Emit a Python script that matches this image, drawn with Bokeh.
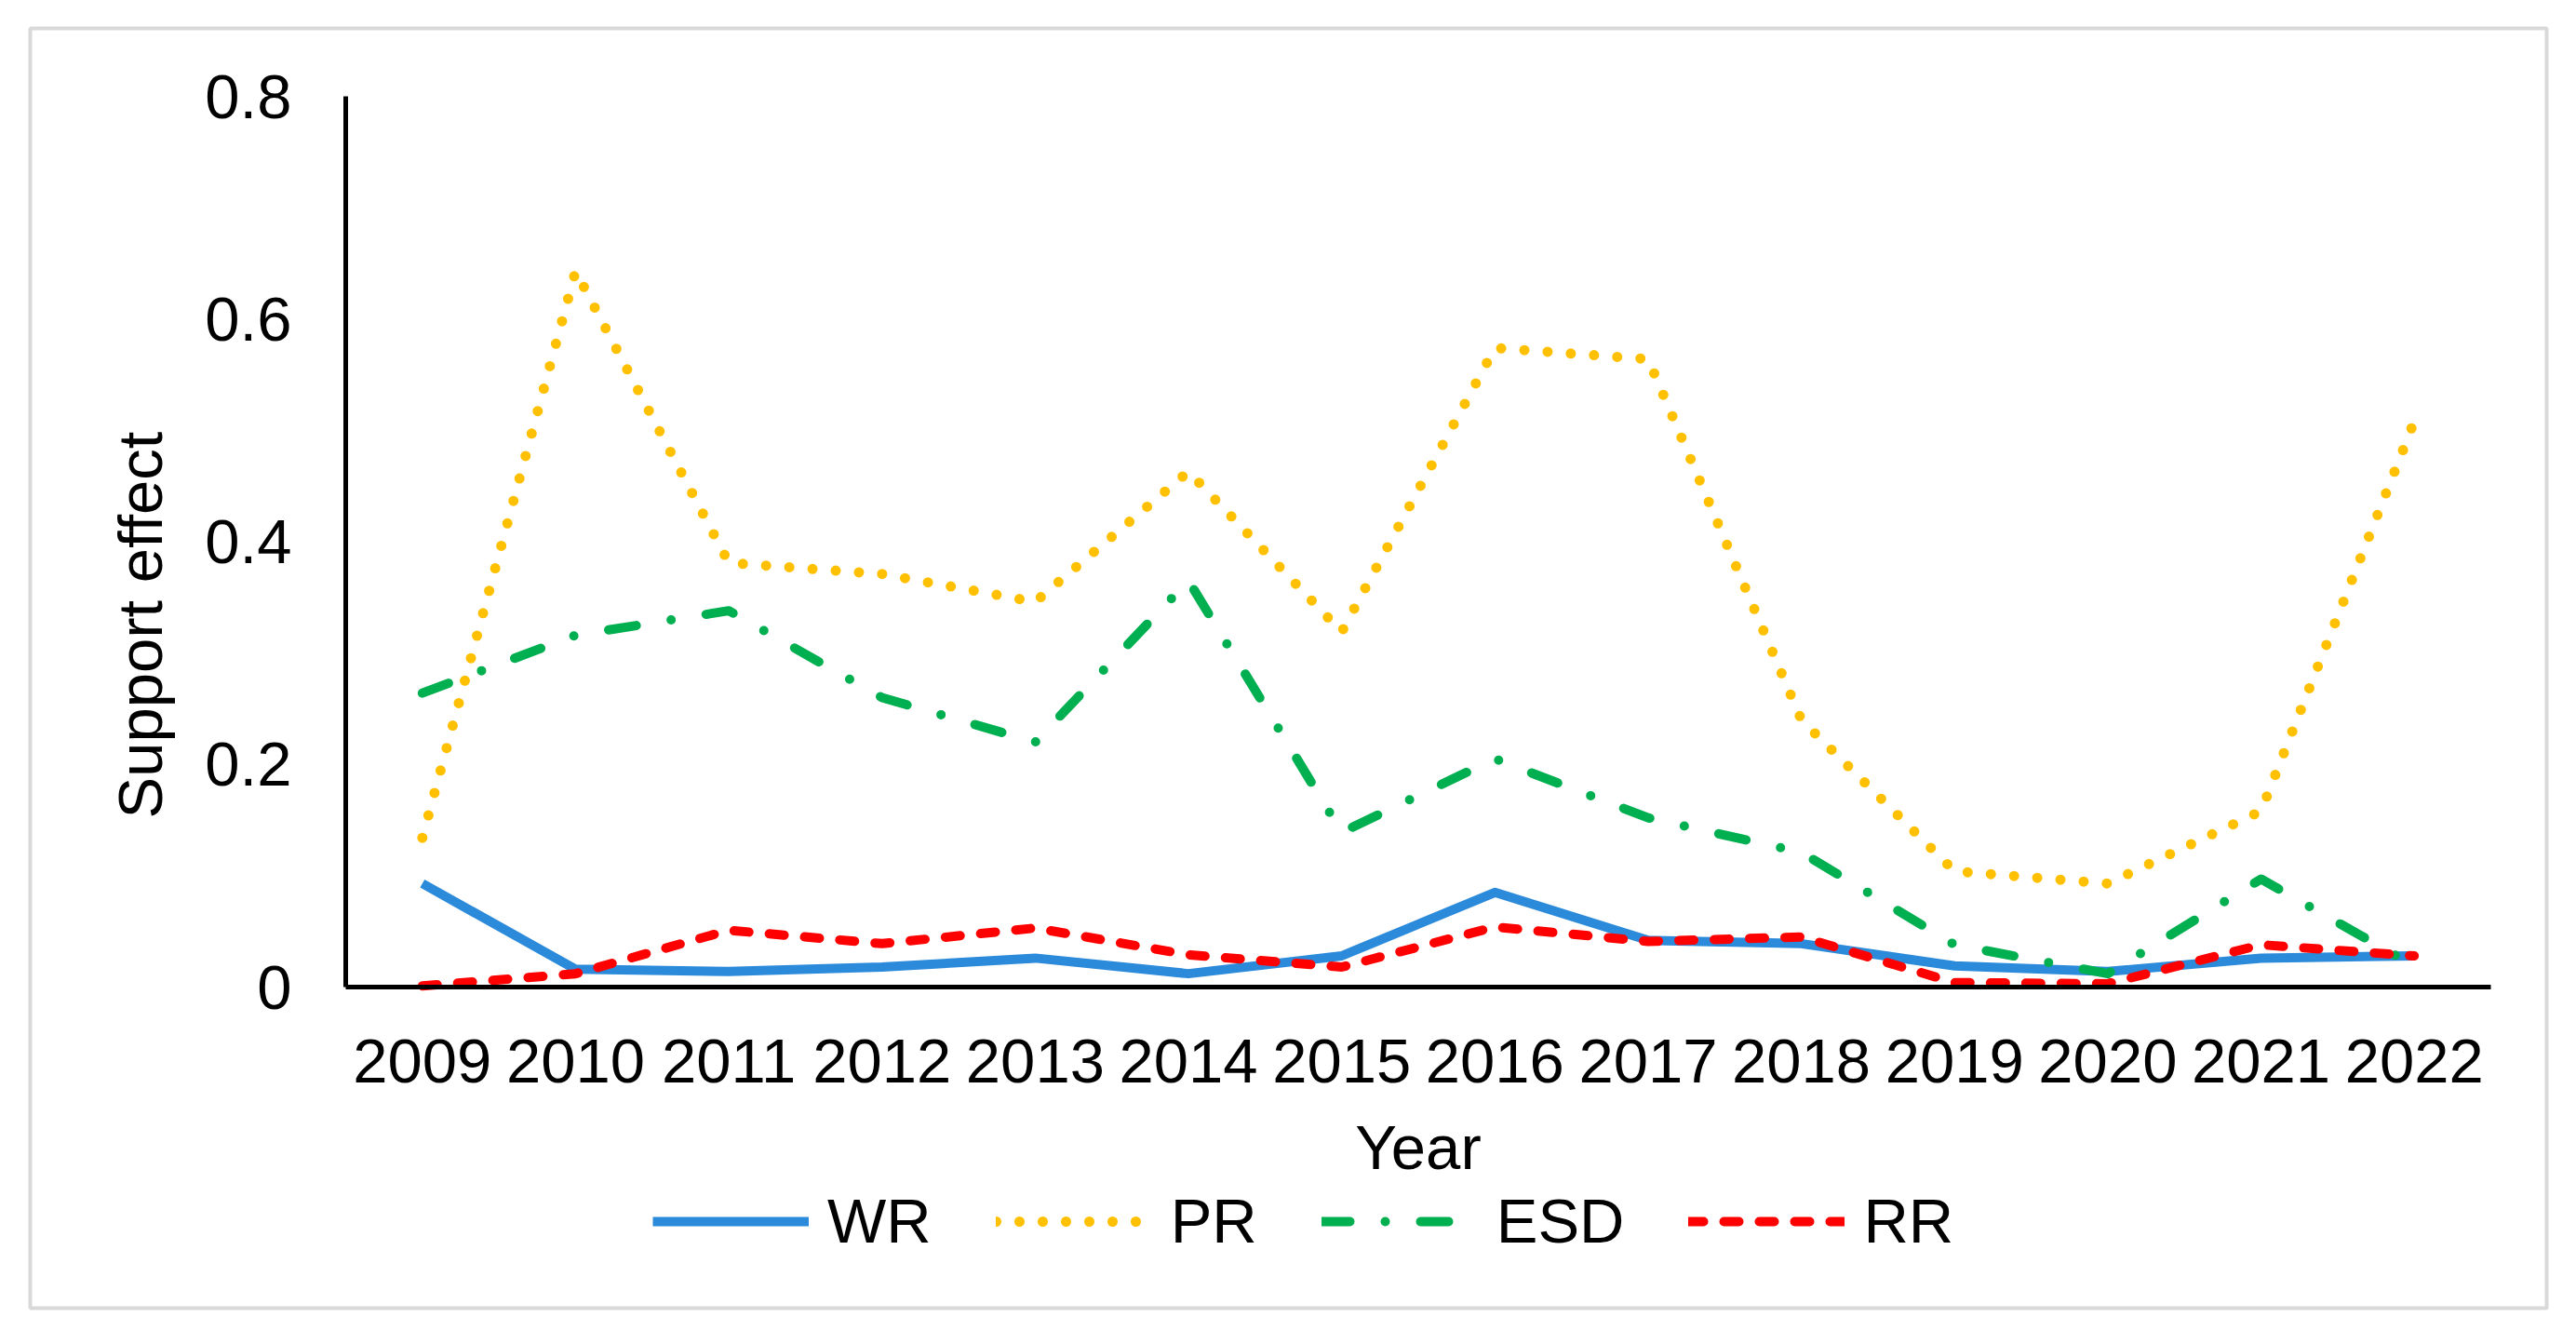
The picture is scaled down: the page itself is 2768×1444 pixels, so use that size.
from math import pi
from bokeh.plotting import figure
from bokeh.models import (Range1d, FixedTicker, Legend, LegendItem, Label,
                          BoxAnnotation, ColumnDataSource)
from bokeh.embed import file_html
from bokeh.resources import INLINE

years = ["2009", "2010", "2011", "2012", "2013", "2014", "2015",
         "2016", "2017", "2018", "2019", "2020", "2021", "2022"]
wr = [0.093, 0.016, 0.014, 0.018, 0.026, 0.012, 0.028, 0.085, 0.042, 0.039, 0.019, 0.014, 0.026, 0.028]
pr = [0.134, 0.643, 0.381, 0.371, 0.346, 0.463, 0.319, 0.574, 0.564, 0.240, 0.104, 0.093, 0.158, 0.508]
esd = [0.264, 0.316, 0.338, 0.260, 0.220, 0.365, 0.139, 0.205, 0.152, 0.121, 0.038, 0.012, 0.097, 0.019]
rr = [0.001, 0.012, 0.051, 0.039, 0.053, 0.029, 0.018, 0.054, 0.041, 0.045, 0.004, 0.003, 0.038, 0.028]
series_names = ["WR", "PR", "ESD", "RR"]
y_ticks = [0, 0.2, 0.4, 0.6, 0.8]
y_tick_labels = ["0", "0.2", "0.4", "0.6", "0.8"]
y_min, y_max = 0, 0.8

FONT = "Liberation Sans"
FS = "67px"

# canvas geometry (pixels)
WIDTH, HEIGHT = 2752, 1428
AX_L, AX_R = 371, 2676      # plot-area left/right
AX_T, AX_B = 103, 1060      # plot-area top (y_max) / bottom (y_min)

n = len(years)
xpos = [i + 0.5 for i in range(n)]          # category centres
kx = (AX_R - AX_L) / n
ky = (AX_B - AX_T) / (y_max - y_min)
x_range = Range1d(-AX_L / kx, (WIDTH - AX_L) / kx)
y_range = Range1d(y_min - (HEIGHT - AX_B) / ky, y_max + AX_T / ky)

src = ColumnDataSource(dict(x=xpos, wr=wr, pr=pr, esd=esd, rr=rr))

p = figure(x_range=x_range, y_range=y_range, width=WIDTH, height=HEIGHT,
           output_backend="svg", toolbar_location=None, title=None,
           min_border=0)
p.xgrid.grid_line_color = None
p.ygrid.grid_line_color = None
p.outline_line_color = None
p.background_fill_color = "white"
p.border_fill_color = "white"

for ax in (p.xaxis[0], p.yaxis[0]):
    ax.axis_line_color = "black"
    ax.axis_line_width = 5
    ax.major_tick_line_color = None
    ax.minor_tick_line_color = None
    ax.major_tick_out = 0
    ax.major_tick_in = 0
    ax.major_label_text_font = FONT
    ax.major_label_text_font_size = FS
    ax.major_label_text_color = "black"

p.xaxis.fixed_location = y_min
p.xaxis.bounds = (0, n)
p.xaxis.ticker = FixedTicker(ticks=xpos)
p.xaxis.major_label_overrides = dict(zip(xpos, years))
p.xaxis.major_label_standoff = 56
p.xaxis.axis_label = "Year"
p.xaxis.axis_label_text_font = FONT
p.xaxis.axis_label_text_font_size = FS
p.xaxis.axis_label_text_font_style = "normal"
p.xaxis.axis_label_text_color = "black"
p.xaxis.axis_label_standoff = 29

p.yaxis.fixed_location = 0
p.yaxis.bounds = (y_min, y_max)
p.yaxis.ticker = FixedTicker(ticks=y_ticks)
p.yaxis.major_label_overrides = dict(zip(y_ticks, y_tick_labels))
p.yaxis.major_label_standoff = 58

W = 10
r_wr = p.line("x", "wr", source=src, line_color="#2C8ADB", line_width=W,
              line_join="round")
r_pr = p.line("x", "pr", source=src, line_color="#FFC000", line_width=W + 1,
              line_dash="0 25", line_cap="round", line_join="round")
r_esd = p.line("x", "esd", source=src, line_color="#00B050", line_width=W,
               line_dash="30 38 0 38", line_cap="round", line_join="round")
r_rr = p.line("x", "rr", source=src, line_color="#FF0000", line_width=W,
              line_dash="16 22", line_cap="round", line_join="round")

legend = Legend(items=[LegendItem(label=s, renderers=[r]) for s, r in
                       zip(series_names, [r_wr, r_pr, r_esd, r_rr])],
                orientation="horizontal", location=(701, 78),
                glyph_width=168, glyph_height=60, label_height=60,
                label_standoff=20, spacing=69, padding=0, margin=0,
                border_line_color=None, background_fill_alpha=0,
                label_text_font=FONT, label_text_font_size=FS,
                label_text_color="black")
p.add_layout(legend)

ylab = Label(x=150, y=HEIGHT - 671, x_units="screen", y_units="screen",
             text="Support effect", angle=pi / 2, text_align="center",
             text_baseline="middle", text_font=FONT, text_font_size=FS,
             text_color="black")
p.add_layout(ylab)

box = BoxAnnotation(left=32, right=2736, top=HEIGHT - 30, bottom=HEIGHT - 1405,
                    left_units="screen", right_units="screen",
                    top_units="screen", bottom_units="screen",
                    fill_alpha=0, line_color="#D9D9D9", line_alpha=1,
                    line_width=4)
p.add_layout(box)

open("out.html", "w").write(file_html(p, INLINE))
